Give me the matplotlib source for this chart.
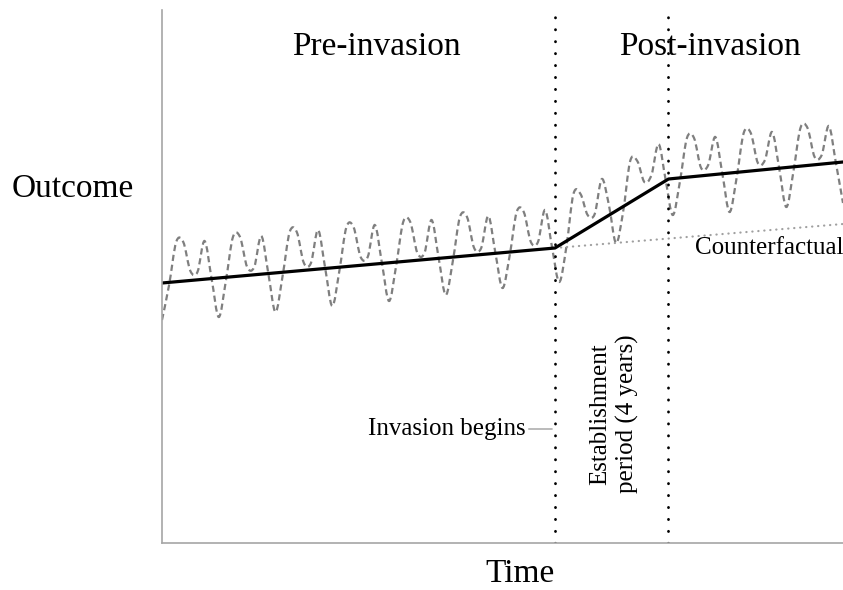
import numpy as np
import matplotlib.pyplot as plt
from matplotlib.path import Path
from matplotlib.patches import PathPatch

plt.rcParams['font.family'] = ['Liberation Serif', 'DejaVu Serif']

# quarterly outcome (arbitrary units), one row per two-year cycle
outcome = [
    22.3, 25.8, 30.1, 30.1, 27.2, 27.1, 30.2, 26.4,
    22.6, 26.2, 30.6, 30.6, 27.6, 27.6, 30.7, 26.9,
    23.1, 26.7, 31.1, 31.1, 28.0, 28.0, 31.3, 27.5,
    23.7, 27.2, 31.6, 31.6, 28.6, 28.6, 31.8, 28.0,
    24.2, 27.7, 32.1, 32.1, 29.0, 29.0, 32.3, 28.5,
    24.8, 28.2, 32.6, 32.6, 29.5, 29.5, 32.7, 29.0,
    25.5, 28.7, 33.1, 33.1, 30.1, 30.1, 33.3, 29.5,
    26.1, 29.6, 34.9, 34.9, 32.8, 32.9, 36.4, 33.8,
    30.0, 33.1, 38.2, 38.2, 36.1, 36.8, 39.9, 36.3,
    32.8, 36.1, 40.5, 40.5, 37.5, 37.8, 40.6, 36.9,
    33.1, 36.5, 41.0, 41.0, 38.0, 38.3, 41.1, 37.5,
    33.6, 37.1, 41.5, 41.5, 38.6, 38.8, 41.7, 38.0,
    34.0,
]
quarter = np.arange(len(outcome))

# piecewise trend and counterfactual
trend_time = [0, 55.4, 71.4, 96]
trend_outcome = [26.0, 29.5, 36.4, 38.1]
counterfactual_time = [55.4, 96]
counterfactual_outcome = [29.5, 31.9]
phase_lines = [55.4, 71.4]


def smooth_path(x, y):
    # catmull-rom style bezier through the points (like a smoothed line)
    p = np.column_stack([x, y]).astype(float)
    ext = np.vstack([p[0], p, p[-1]])
    verts = [p[0]]
    codes = [Path.MOVETO]
    for i in range(1, len(ext) - 2):
        p0, p1, p2, p3 = ext[i - 1], ext[i], ext[i + 1], ext[i + 2]
        verts += [p1 + (p2 - p0) / 6, p2 - (p3 - p1) / 6, p2]
        codes += [Path.CURVE4] * 3
    return Path(verts, codes)


fig = plt.figure(figsize=(8.43, 5.90), dpi=100)
ax = fig.add_axes([162 / 843, 47 / 590, 681 / 843, 533 / 590])
ax.set_xlim(0, 96)
ax.set_ylim(0, 53.3)

ax.add_patch(PathPatch(smooth_path(quarter, outcome), fill=False,
                       edgecolor='#7f7f7f', lw=1.6, linestyle=(0, (2.8, 1.7))))
ax.plot(counterfactual_time, counterfactual_outcome, color='#a0a0a0', lw=1.6,
        linestyle=(0, (0.1, 2.6)), dash_capstyle='round')
ax.plot(trend_time, trend_outcome, color='black', lw=2.3)
for t in phase_lines:
    ax.axvline(t, color='black', lw=2, linestyle=(0, (0.1, 4.2)),
               dash_capstyle='round')

for s in ['top', 'right']:
    ax.spines[s].set_visible(False)
for s in ['left', 'bottom']:
    ax.spines[s].set_color('#a6a6a6')
    ax.spines[s].set_linewidth(1.2)
ax.set_xticks([])
ax.set_yticks([])


def fx(px):
    return px / 843


def fy(py):
    return 1 - py / 590


fig.text(fx(376), fy(55), 'Pre-invasion', fontsize=24, ha='center', va='baseline')
fig.text(fx(710), fy(55), 'Post-invasion', fontsize=24, ha='center', va='baseline')
fig.text(fx(12), fy(197), 'Outcome', fontsize=24, ha='left', va='baseline')
fig.text(fx(520), fy(582), 'Time', fontsize=24, ha='center', va='baseline')
fig.text(fx(843), fy(254), 'Counterfactual', fontsize=18, ha='right', va='baseline')
fig.text(fx(614), fy(414), 'Establishment\nperiod (4 years)', fontsize=18,
         rotation=90, ha='center', va='center', multialignment='center',
         linespacing=1.3)

ax.annotate('Invasion begins', xy=(55.0, 11.4), xytext=(51.3, 11.4),
            fontsize=18, ha='right', va='center',
            arrowprops=dict(arrowstyle='-', color='#a0a0a0', lw=1,
                            shrinkA=0, shrinkB=0))

fig.savefig('out.png', dpi=100)
